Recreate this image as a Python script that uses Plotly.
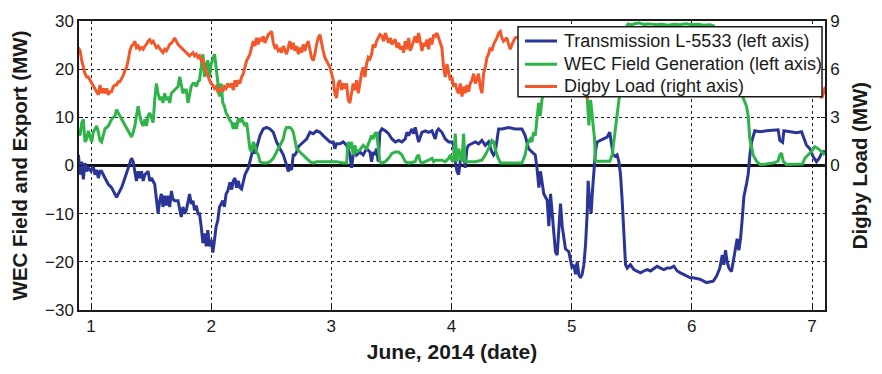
import plotly.graph_objects as go

# ---- Transmission L-5533 (MW, left axis) ----
trans_day = [
    0.895, 0.909, 0.923, 0.936, 0.950, 0.964, 0.978, 1.000, 1.019, 1.033,
    1.047, 1.061, 1.075, 1.088, 1.116, 1.144, 1.171, 1.199, 1.213, 1.227,
    1.254, 1.282, 1.309, 1.337, 1.351, 1.365, 1.378, 1.392, 1.406, 1.420,
    1.434, 1.448, 1.475, 1.489, 1.503, 1.530, 1.544, 1.558, 1.572, 1.586,
    1.599, 1.613, 1.627, 1.641, 1.655, 1.669, 1.682, 1.696, 1.724, 1.738,
    1.751, 1.765, 1.779, 1.793, 1.807, 1.820, 1.834, 1.848, 1.862, 1.876,
    1.890, 1.903, 1.917, 1.931, 1.945, 1.959, 1.972, 1.986, 2.000, 2.014,
    2.028, 2.041, 2.055, 2.069, 2.083, 2.097, 2.110, 2.124, 2.138, 2.156,
    2.170, 2.184, 2.198, 2.211, 2.225, 2.239, 2.253, 2.267, 2.281, 2.295,
    2.309, 2.322, 2.336, 2.350, 2.364, 2.378, 2.392, 2.406, 2.433, 2.461,
    2.489, 2.517, 2.544, 2.572, 2.600, 2.627, 2.641, 2.655, 2.669, 2.683,
    2.697, 2.711, 2.725, 2.738, 2.766, 2.794, 2.822, 2.849, 2.877, 2.905,
    2.932, 2.960, 2.988, 3.016, 3.029, 3.043, 3.071, 3.099, 3.127, 3.140,
    3.154, 3.168, 3.182, 3.196, 3.210, 3.237, 3.265, 3.293, 3.321, 3.335,
    3.348, 3.362, 3.376, 3.390, 3.404, 3.421, 3.449, 3.476, 3.504, 3.532,
    3.560, 3.587, 3.615, 3.629, 3.643, 3.671, 3.684, 3.698, 3.712, 3.726,
    3.754, 3.782, 3.809, 3.837, 3.865, 3.879, 3.892, 3.920, 3.948, 3.976,
    4.003, 4.017, 4.031, 4.045, 4.059, 4.073, 4.087, 4.100, 4.114, 4.128,
    4.142, 4.170, 4.198, 4.225, 4.253, 4.281, 4.308, 4.336, 4.350, 4.364,
    4.392, 4.419, 4.475, 4.530, 4.586, 4.613, 4.641, 4.669, 4.683, 4.697,
    4.711, 4.727, 4.740, 4.768, 4.796, 4.810, 4.824, 4.838, 4.851, 4.865,
    4.879, 4.893, 4.907, 4.921, 4.935, 4.948, 4.976, 4.990, 5.004, 5.018,
    5.032, 5.046, 5.059, 5.073, 5.087, 5.101, 5.115, 5.129, 5.137, 5.148,
    5.162, 5.173, 5.184, 5.198, 5.212, 5.240, 5.267, 5.295, 5.317, 5.331,
    5.345, 5.364, 5.378, 5.392, 5.406, 5.420, 5.434, 5.448, 5.462, 5.489,
    5.517, 5.545, 5.573, 5.600, 5.628, 5.656, 5.684, 5.711, 5.739, 5.767,
    5.794, 5.822, 5.850, 5.878, 5.905, 5.933, 5.961, 5.988, 6.011, 6.067,
    6.122, 6.178, 6.205, 6.233, 6.253, 6.266, 6.280, 6.294, 6.308, 6.330,
    6.344, 6.363, 6.377, 6.391, 6.405, 6.419, 6.433, 6.455, 6.469, 6.483,
    6.497, 6.524, 6.566, 6.621, 6.677, 6.718, 6.732, 6.755, 6.766, 6.815,
    6.871, 6.913, 6.932, 6.954, 6.982, 7.010, 7.037, 7.060, 7.079, 7.107,
]
trans_mw = [
    2.2, -1.9, 0.8, -2.9, 0.5, -1.2, -0.5, -1.2, -0.2, -1.9,
    -0.9, -2.6, -1.2, -1.2, -2.6, -3.9, -4.6, -5.9, -6.6, -5.9,
    -4.6, -2.6, -0.5, 1.5, 0.8, -1.9, -3.2, -1.2, -2.6, -1.2,
    -3.2, -1.9, -1.2, -3.2, -2.6, -3.9, -7.3, -10.0, -7.3, -5.9,
    -8.6, -6.3, -8.3, -6.3, -8.6, -5.3, -7.0, -7.3, -7.3, -9.3,
    -10.7, -8.6, -10.0, -9.3, -7.3, -5.9, -8.0, -7.3, -9.3, -8.3,
    -10.0, -10.0, -12.7, -16.1, -14.1, -16.8, -13.4, -16.8, -15.4, -18.1,
    -15.4, -12.7, -11.4, -8.6, -8.0, -7.3, -8.6, -5.9, -5.3, -3.5,
    -5.0, -3.2, -2.6, -4.6, -3.2, -4.6, -4.9, -3.2, -1.9, -1.2,
    -0.5, 0.8, 2.2, 3.5, 2.5, 3.5, 4.9, 6.2, 7.6, 7.9,
    7.6, 6.9, 4.9, 3.5, 2.2, 0.1, -1.2, -0.5, -0.9, 2.2,
    2.2, 2.8, 3.9, 4.2, 4.9, 5.5, 6.9, 6.6, 7.2, 6.9,
    6.2, 5.5, 4.9, 4.9, 3.5, 4.5, 4.5, 4.9, 4.2, 3.5,
    2.2, -0.5, 2.2, 3.5, 2.2, 2.8, 2.2, 3.5, 2.8, 0.8,
    2.8, 2.2, 3.5, 0.8, 6.9, 7.6, 7.2, 6.6, 5.5, 4.9,
    5.2, 4.9, 5.5, 6.9, 6.2, 7.6, 6.6, 7.9, 6.2, 4.9,
    6.9, 7.2, 6.9, 7.2, 5.5, 7.2, 7.6, 6.9, 5.5, 4.9,
    4.9, 4.2, 0.8, -1.2, -1.9, 0.8, 2.2, 3.5, -0.5, 3.5,
    4.2, 4.5, 4.9, 4.5, 5.2, 4.2, 4.9, 2.8, 2.2, 2.8,
    7.6, 7.6, 7.9, 7.6, 7.6, 6.2, 3.5, 2.8, 2.5, 2.2,
    -0.5, -4.6, -1.2, -5.9, -7.2, -12.6, -5.9, -9.9, -13.9, -17.9,
    -18.6, -13.2, -7.9, -12.6, -15.2, -17.3, -17.9, -19.3, -21.3, -20.6,
    -22.6, -19.9, -22.6, -23.3, -22.6, -20.6, -16.6, -9.9, -3.2, -7.2,
    -9.9, -5.2, -0.5, 3.0, 4.9, 5.2, 5.6, 5.9, 6.9, 4.9,
    2.2, 1.9, 2.2, 0.9, -1.8, -7.2, -13.9, -20.6, -21.3, -20.6,
    -21.6, -21.9, -22.3, -21.9, -21.6, -21.9, -21.3, -20.9, -21.3, -21.6,
    -21.3, -21.3, -20.9, -21.9, -22.3, -22.6, -22.9, -23.3, -23.3, -23.6,
    -24.3, -24.0, -23.0, -21.3, -18.6, -20.6, -17.6, -20.0, -21.3, -22.0,
    -20.0, -16.6, -15.2, -17.6, -15.2, -11.2, -6.5, -3.8, -1.8, 2.2,
    4.9, 7.2, 7.0, 7.2, 7.4, 7.4, 5.2, 4.8, 7.2, 7.0,
    6.8, 7.0, 5.8, 4.2, 3.5, 1.8, 0.8, 1.5, 2.5, 3.1,
]

# ---- WEC field generation (MW, left axis) ----
wec_day = [
    0.895, 0.909, 0.923, 0.936, 0.950, 0.964, 0.978, 0.992, 1.006, 1.019,
    1.033, 1.047, 1.061, 1.075, 1.088, 1.102, 1.116, 1.144, 1.171, 1.199,
    1.213, 1.227, 1.240, 1.254, 1.282, 1.309, 1.337, 1.351, 1.365, 1.378,
    1.392, 1.406, 1.420, 1.434, 1.448, 1.461, 1.475, 1.489, 1.503, 1.517,
    1.530, 1.544, 1.558, 1.572, 1.586, 1.599, 1.613, 1.627, 1.641, 1.655,
    1.669, 1.696, 1.724, 1.738, 1.751, 1.765, 1.779, 1.793, 1.807, 1.820,
    1.834, 1.848, 1.862, 1.876, 1.890, 1.903, 1.917, 1.931, 1.945, 1.959,
    1.972, 1.986, 2.000, 2.014, 2.028, 2.041, 2.055, 2.069, 2.083, 2.097,
    2.110, 2.124, 2.138, 2.152, 2.170, 2.184, 2.198, 2.211, 2.225, 2.239,
    2.253, 2.267, 2.281, 2.295, 2.309, 2.322, 2.336, 2.350, 2.364, 2.378,
    2.392, 2.406, 2.433, 2.461, 2.489, 2.517, 2.544, 2.572, 2.600, 2.614,
    2.627, 2.655, 2.669, 2.683, 2.697, 2.711, 2.738, 2.766, 2.794, 2.822,
    2.849, 2.877, 2.932, 2.988, 3.043, 3.099, 3.127, 3.140, 3.154, 3.168,
    3.182, 3.196, 3.210, 3.237, 3.265, 3.293, 3.321, 3.335, 3.348, 3.362,
    3.376, 3.390, 3.404, 3.421, 3.449, 3.476, 3.504, 3.532, 3.560, 3.587,
    3.615, 3.643, 3.698, 3.712, 3.726, 3.740, 3.754, 3.809, 3.837, 3.851,
    3.865, 3.920, 3.948, 3.976, 3.990, 4.003, 4.017, 4.031, 4.045, 4.059,
    4.073, 4.087, 4.100, 4.114, 4.198, 4.253, 4.281, 4.308, 4.336, 4.350,
    4.364, 4.378, 4.406, 4.586, 4.613, 4.627, 4.641, 4.655, 4.669, 4.683,
    4.697, 4.711, 4.725, 4.738, 4.752, 4.775, 4.800, 4.850, 4.900, 4.950,
    5.000, 5.050, 5.100, 5.125, 5.129, 5.143, 5.157, 5.170, 5.190, 5.198,
    5.240, 5.295, 5.317, 5.337, 5.351, 5.364, 5.378, 5.392, 5.410, 5.430,
    5.450, 5.460, 5.470, 5.500, 5.530, 5.560, 5.600, 5.650, 5.700, 5.750,
    5.800, 5.850, 5.900, 5.950, 6.000, 6.050, 6.100, 6.150, 6.180, 6.220,
    6.270, 6.320, 6.370, 6.410, 6.427, 6.455, 6.469, 6.482, 6.496, 6.510,
    6.538, 6.566, 6.620, 6.676, 6.718, 6.732, 6.746, 6.760, 6.787, 6.850,
    6.920, 6.940, 6.968, 6.995, 7.023, 7.051, 7.079, 7.106,
]
wec_mw = [
    7.6, 6.2, 8.9, 9.6, 4.9, 5.5, 7.2, 5.9, 4.9, 6.9,
    7.6, 8.2, 6.9, 5.2, 4.9, 6.2, 7.6, 8.2, 9.6, 10.3,
    11.6, 10.9, 10.3, 9.6, 8.2, 6.9, 5.9, 6.9, 8.2, 10.3,
    12.3, 10.3, 8.9, 8.2, 9.6, 8.2, 10.3, 10.9, 9.6, 8.9,
    13.6, 17.0, 15.0, 13.6, 14.3, 13.0, 15.0, 13.6, 14.3, 13.0,
    15.0, 15.7, 16.4, 18.4, 17.0, 15.0, 15.7, 15.7, 13.0, 15.0,
    16.4, 17.0, 17.0, 16.4, 17.4, 17.7, 20.4, 23.1, 18.4, 21.1,
    21.8, 18.4, 21.1, 22.4, 23.1, 20.4, 17.0, 14.3, 17.0, 13.0,
    12.3, 10.9, 10.3, 9.5, 8.9, 7.6, 8.9, 7.6, 9.8, 9.0,
    9.8, 9.0, 8.2, 8.9, 5.5, 3.5, 2.8, 4.9, 4.2, 2.8,
    2.2, 0.8, 0.5, 0.5, 0.8, 1.5, 2.8, 4.2, 5.5, 7.2,
    7.9, 7.9, 7.6, 6.9, 4.9, 3.5, 2.8, 2.2, 1.5, 0.8,
    0.5, 0.8, 0.8, 0.8, 0.8, 0.5, 0.5, 4.9, 3.5, 4.9,
    2.2, 4.2, 2.8, 3.2, 4.2, 3.5, 5.5, 6.2, 5.5, 6.6,
    6.9, 3.5, 0.8, 0.5, 0.8, 1.5, 2.5, 2.8, 2.8, 2.2,
    0.8, 0.5, 0.8, 1.8, 2.2, 0.8, 0.5, 1.1, 1.5, 0.8,
    1.1, 1.1, 0.8, 1.5, 2.2, 1.1, 0.8, 6.6, 0.8, 3.5,
    2.2, 0.8, 6.6, 0.8, 0.8, 1.1, 2.2, 3.5, 5.2, 4.9,
    3.5, 2.2, 0.5, 0.5, 2.2, 4.2, 4.9, 5.5, 4.9, 6.9,
    6.2, 10.3, 13.0, 10.3, 13.6, 16.0, 19.0, 22.0, 25.0, 24.0,
    26.0, 25.0, 21.0, 16.0, 14.3, 8.3, 13.6, 10.3, 5.6, 0.9,
    0.9, 0.9, 0.9, 2.2, 4.9, 8.3, 11.0, 13.6, 17.0, 22.0,
    26.5, 29.0, 29.4, 29.2, 29.5, 29.6, 29.3, 29.4, 29.2, 29.3,
    29.1, 29.3, 29.2, 29.4, 29.2, 29.3, 29.1, 29.2, 29.0, 27.5,
    25.0, 22.5, 19.5, 16.0, 14.0, 12.3, 10.3, 5.6, 3.6, 2.2,
    0.9, 0.2, 0.3, 0.5, 0.9, 2.2, 2.6, 0.9, 0.2, 0.2,
    0.3, 1.5, 2.2, 2.9, 3.9, 3.5, 2.9, 2.2,
]

# ---- Digby load (MW, right axis) ----
load_day = [
    0.895, 0.909, 0.923, 0.936, 0.950, 0.964, 0.978, 0.992, 1.006, 1.019,
    1.033, 1.047, 1.061, 1.075, 1.088, 1.102, 1.116, 1.130, 1.144, 1.157,
    1.171, 1.185, 1.199, 1.213, 1.227, 1.240, 1.254, 1.268, 1.282, 1.296,
    1.309, 1.323, 1.337, 1.351, 1.365, 1.378, 1.392, 1.406, 1.420, 1.434,
    1.448, 1.461, 1.475, 1.489, 1.503, 1.517, 1.530, 1.544, 1.558, 1.572,
    1.586, 1.599, 1.613, 1.627, 1.641, 1.655, 1.669, 1.682, 1.696, 1.710,
    1.724, 1.738, 1.751, 1.765, 1.779, 1.793, 1.807, 1.820, 1.834, 1.848,
    1.862, 1.876, 1.890, 1.903, 1.917, 1.931, 1.945, 1.959, 1.972, 1.986,
    2.000, 2.014, 2.028, 2.041, 2.055, 2.069, 2.083, 2.097, 2.110, 2.124,
    2.138, 2.156, 2.170, 2.184, 2.198, 2.211, 2.225, 2.239, 2.253, 2.267,
    2.281, 2.295, 2.309, 2.322, 2.336, 2.350, 2.364, 2.378, 2.392, 2.406,
    2.419, 2.433, 2.447, 2.461, 2.475, 2.489, 2.503, 2.517, 2.530, 2.544,
    2.558, 2.572, 2.586, 2.600, 2.614, 2.627, 2.641, 2.655, 2.669, 2.683,
    2.697, 2.711, 2.725, 2.738, 2.752, 2.766, 2.780, 2.794, 2.808, 2.822,
    2.835, 2.849, 2.863, 2.877, 2.891, 2.905, 2.919, 2.932, 2.946, 2.960,
    2.974, 2.988, 3.002, 3.016, 3.029, 3.043, 3.057, 3.071, 3.085, 3.099,
    3.113, 3.127, 3.140, 3.154, 3.168, 3.182, 3.196, 3.210, 3.224, 3.237,
    3.251, 3.265, 3.279, 3.293, 3.307, 3.321, 3.335, 3.348, 3.362, 3.376,
    3.390, 3.404, 3.421, 3.435, 3.449, 3.463, 3.476, 3.490, 3.504, 3.518,
    3.532, 3.546, 3.560, 3.574, 3.587, 3.601, 3.615, 3.629, 3.643, 3.657,
    3.671, 3.684, 3.698, 3.712, 3.726, 3.740, 3.754, 3.768, 3.782, 3.795,
    3.809, 3.823, 3.837, 3.851, 3.865, 3.879, 3.892, 3.906, 3.920, 3.934,
    3.948, 3.962, 3.976, 3.990, 4.003, 4.017, 4.031, 4.045, 4.059, 4.073,
    4.087, 4.100, 4.114, 4.128, 4.142, 4.156, 4.170, 4.184, 4.198, 4.212,
    4.225, 4.239, 4.253, 4.267, 4.281, 4.295, 4.308, 4.322, 4.336, 4.350,
    4.364, 4.378, 4.392, 4.406, 4.419, 4.433, 4.447, 4.461, 4.475, 4.489,
    4.503, 4.517, 4.530, 4.560, 4.600, 4.650, 4.700, 4.750, 4.800, 4.850,
    4.900, 4.950, 5.000, 5.050, 5.090, 5.130, 5.160, 5.200, 5.250, 5.300,
    5.350, 5.400, 5.450, 5.500, 5.550, 5.600, 5.650, 5.700, 5.750, 5.800,
    5.850, 5.900, 5.950, 6.000, 6.050, 6.100, 6.150, 6.200, 6.250, 6.300,
    6.350, 6.400, 6.450, 6.500, 6.550, 6.600, 6.650, 6.700, 6.750, 6.800,
    6.850, 6.900, 6.950, 7.000, 7.040, 7.080, 7.095, 7.110,
]
load_mw = [
    7.34, 7.14, 6.53, 6.12, 5.72, 5.51, 5.51, 5.31, 5.11, 4.91,
    4.70, 4.60, 4.40, 5.01, 4.50, 4.80, 4.50, 4.80, 4.40, 4.60,
    4.60, 4.91, 5.01, 5.01, 5.21, 5.21, 5.41, 5.61, 5.92, 6.12,
    6.53, 7.14, 7.44, 7.54, 7.74, 7.34, 7.44, 7.24, 7.34, 7.24,
    7.44, 7.54, 7.74, 7.84, 7.64, 7.74, 7.54, 7.34, 7.44, 7.24,
    7.14, 7.03, 7.24, 7.14, 7.34, 7.54, 7.64, 7.74, 7.95, 7.74,
    7.54, 7.44, 7.34, 7.24, 7.14, 7.03, 6.93, 6.83, 6.93, 7.03,
    6.83, 6.93, 6.73, 6.83, 6.53, 6.63, 6.12, 5.82, 5.51, 5.31,
    5.11, 5.01, 4.80, 4.91, 4.60, 4.70, 4.80, 4.60, 4.91, 4.80,
    5.11, 4.90, 5.11, 4.70, 5.31, 4.91, 5.31, 5.11, 5.51, 5.72,
    6.12, 6.53, 6.73, 6.93, 7.34, 7.74, 7.44, 7.95, 7.54, 7.95,
    7.74, 8.05, 7.64, 7.95, 8.15, 8.25, 8.35, 7.64, 7.34, 7.44,
    7.14, 7.24, 7.03, 7.44, 7.14, 6.93, 7.34, 7.74, 7.24, 7.64,
    7.14, 7.44, 6.93, 7.34, 7.03, 7.54, 7.14, 7.54, 7.74, 7.14,
    6.73, 6.53, 6.93, 7.54, 7.95, 8.15, 7.54, 7.14, 6.73, 6.53,
    6.32, 6.12, 5.72, 5.31, 4.50, 4.20, 5.11, 5.31, 4.70, 5.11,
    4.80, 5.11, 4.09, 3.89, 4.50, 5.11, 4.70, 5.31, 4.50, 5.11,
    5.72, 6.12, 5.51, 6.32, 6.73, 6.63, 6.93, 7.54, 7.34, 7.74,
    7.95, 8.15, 8.05, 7.74, 8.25, 7.95, 7.64, 7.95, 7.54, 7.74,
    7.84, 7.34, 7.64, 7.24, 7.44, 7.03, 7.74, 7.24, 7.95, 7.14,
    7.54, 7.74, 8.05, 7.64, 8.25, 7.54, 7.14, 7.64, 7.44, 7.84,
    7.24, 7.95, 7.54, 8.15, 8.05, 8.25, 7.95, 7.54, 7.34, 6.12,
    5.51, 6.32, 5.72, 5.31, 5.51, 4.91, 5.11, 4.70, 4.50, 5.11,
    4.30, 4.91, 4.50, 5.01, 4.60, 5.11, 5.31, 5.72, 5.11, 5.51,
    5.72, 4.91, 4.50, 5.72, 6.12, 6.73, 6.93, 7.34, 7.14, 7.54,
    7.74, 7.95, 8.25, 8.35, 7.95, 7.74, 7.84, 7.95, 7.54, 7.24,
    7.54, 7.74, 7.95, 8.00, 7.80, 8.20, 7.90, 8.00, 7.60, 7.80,
    7.40, 6.80, 6.00, 5.20, 4.60, 4.20, 4.60, 5.00, 5.40, 6.20,
    7.00, 7.60, 7.90, 8.10, 7.80, 8.00, 7.70, 8.10, 7.90, 7.70,
    7.60, 7.30, 6.60, 5.80, 5.10, 4.70, 4.60, 5.00, 5.60, 6.60,
    7.40, 7.90, 8.10, 7.80, 8.00, 7.70, 8.10, 7.90, 7.70, 7.80,
    7.50, 7.20, 6.60, 5.80, 5.00, 4.20, 4.50, 4.90,
]

day_ticks = [1, 2, 3, 4, 5, 6, 7]
left_ticks = [-30, -20, -10, 0, 10, 20, 30]
right_ticks = [0, 3, 6, 9]

series_names = [
    "Transmission L-5533 (left axis)",
    "WEC Field Generation (left axis)",
    "Digby Load (right axis)",
]

BLUE = "#2b3597"
GREEN = "#2fb449"
ORANGE = "#f2582a"
INK = "#1a1a1a"
FONT = "Arial, Liberation Sans, Helvetica, sans-serif"
series_colors = [BLUE, GREEN, ORANGE]

fig = go.Figure()
fig.add_trace(go.Scatter(x=trans_day, y=trans_mw, mode="lines",
                         name=series_names[0],
                         line=dict(color=BLUE, width=3)))
fig.add_trace(go.Scatter(x=wec_day, y=wec_mw, mode="lines",
                         name=series_names[1],
                         line=dict(color=GREEN, width=3)))
fig.add_trace(go.Scatter(x=load_day, y=load_mw, mode="lines",
                         name=series_names[2], yaxis="y2",
                         line=dict(color=ORANGE, width=3)))

# Boxed key in the upper-right corner (paper coordinates), drawn over the lines
box_x0, box_x1, box_y0, box_y1 = 0.5885, 0.996, 0.738, 0.980
key_x0, key_x1, text_x = 0.5979, 0.6408, 0.6475
row_y = [0.9305, 0.8505, 0.7735]

shapes = [dict(type="rect", xref="paper", yref="paper",
               x0=box_x0, x1=box_x1, y0=box_y0, y1=box_y1,
               fillcolor="white", line=dict(color=INK, width=1.5),
               layer="above")]
annotations = []
for name, color, y in zip(series_names, series_colors, row_y):
    shapes.append(dict(type="line", xref="paper", yref="paper",
                       x0=key_x0, x1=key_x1, y0=y, y1=y,
                       line=dict(color=color, width=3), layer="above"))
    annotations.append(dict(xref="paper", yref="paper", x=text_x, y=y,
                            xanchor="left", yanchor="middle", showarrow=False,
                            text=name,
                            font=dict(family=FONT, size=18, color=INK)))

grid = dict(showgrid=True, gridcolor="#222222", gridwidth=1, griddash="3px,3px")

fig.update_layout(
    width=882, height=374,
    margin=dict(l=79, r=57, t=12, b=64),
    paper_bgcolor="white", plot_bgcolor="white",
    font=dict(family=FONT, size=17, color=INK),
    showlegend=False,
    shapes=shapes,
    annotations=annotations,
    xaxis=dict(range=[0.9, 7.108], tickvals=day_ticks, ticks="inside",
               ticklen=4, tickcolor=INK,
               showline=True, linecolor=INK, linewidth=1.5, mirror=True,
               zeroline=False,
               title=dict(text="<b>June, 2014 (date)</b>",
                          font=dict(family=FONT, size=21), standoff=9),
               **grid),
    yaxis=dict(range=[-30, 30], tickvals=left_ticks, ticks="inside",
               ticklen=4, tickcolor=INK,
               showline=True, linecolor=INK, linewidth=1.5, mirror=True,
               zeroline=True, zerolinecolor="#111111", zerolinewidth=3,
               title=dict(text="<b>WEC Field and Export (MW)</b>",
                          font=dict(family=FONT, size=20.5), standoff=12),
               **grid),
    yaxis2=dict(range=[-9, 9], tickvals=right_ticks, overlaying="y",
                side="right", showgrid=False, zeroline=False,
                showline=True, linecolor=INK, linewidth=1.5,
                ticks="inside", ticklen=4, tickcolor=INK,
                title=dict(text="<b>Digby Load (MW)</b>",
                           font=dict(family=FONT, size=20.5), standoff=14)),
)

fig.write_html("out.html")
